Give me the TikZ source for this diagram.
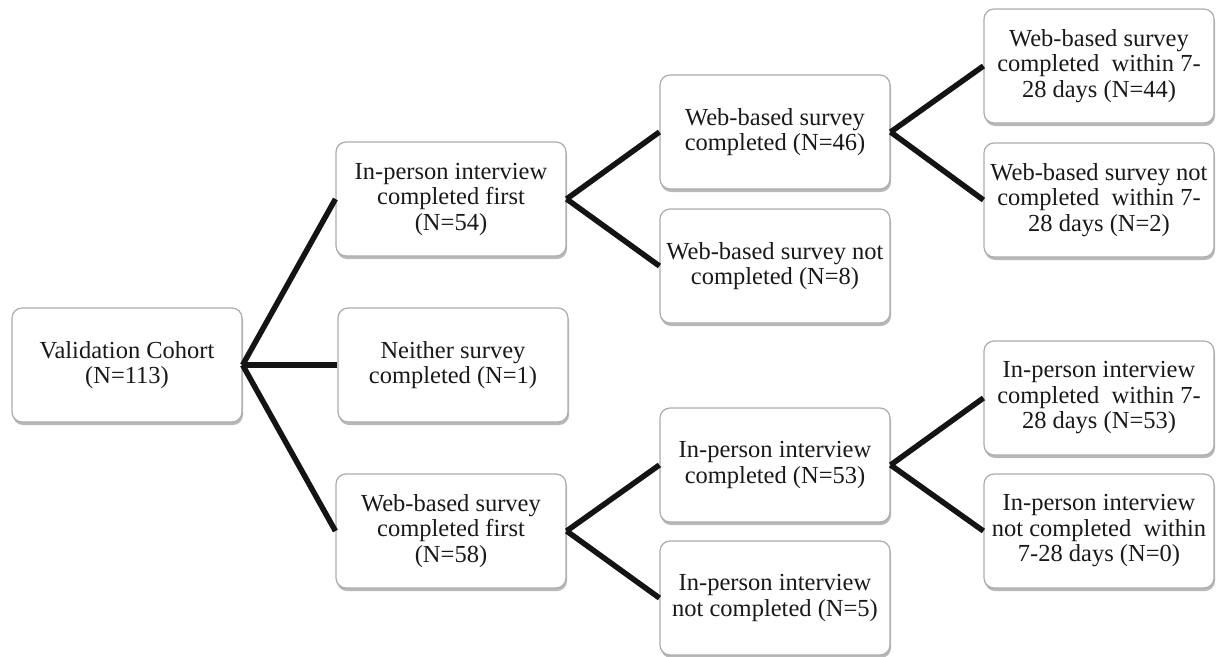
\documentclass[tikz,border=0pt]{standalone}
\usepackage{fontspec}
\setmainfont{Liberation Serif}
\usetikzlibrary{shadows}
\begin{document}
\begin{tikzpicture}[x=1pt,y=-1pt,
  box/.style={draw=gray!65,line width=1.2pt,rounded corners=10pt,fill=white,
    minimum width=230pt,minimum height=114pt,align=center,text=black!90,
    font=\fontsize{24.5}{25.5}\selectfont,inner sep=2pt,
    drop shadow={shadow xshift=1pt,shadow yshift=-3pt,fill=black,opacity=0.28}},
  conn/.style={draw=black!92,line width=5.5pt}]
\useasboundingbox (0,0) rectangle (1223,656);
\node[box] (V) at (127,365) {Validation Cohort\\(N=113)};
\node[box] (A) at (451,199) {In-person interview\\completed first\\(N=54)};
\node[box] (N) at (453,365) {Neither survey\\completed (N=1)};
\node[box] (B) at (451,531) {Web-based survey\\completed first\\(N=58)};
\node[box] (A1) at (775,132) {Web-based survey\\completed (N=46)};
\node[box] (A2) at (775,266) {Web-based survey not\\completed (N=8)};
\node[box] (B1) at (775,465) {In-person interview\\completed (N=53)};
\node[box] (B2) at (775,598) {In-person interview\\not completed (N=5)};
\node[box] (A11) at (1099,66) {Web-based survey\\completed\ \ within 7-\\28 days (N=44)};
\node[box] (A12) at (1099,200) {Web-based survey not\\completed\ \ within 7-\\28 days (N=2)};
\node[box] (B11) at (1099,398) {In-person interview\\completed\ \ within 7-\\28 days (N=53)};
\node[box] (B12) at (1099,531) {In-person interview\\not completed\ \ within\\7-28 days (N=0)};
\draw[conn] (V.east) -- (A.west);
\draw[conn] (V.east) -- (N.west);
\draw[conn] (V.east) -- (B.west);
\draw[conn] (A.east) -- (A1.west);
\draw[conn] (A.east) -- (A2.west);
\draw[conn] (B.east) -- (B1.west);
\draw[conn] (B.east) -- (B2.west);
\draw[conn] (A1.east) -- (A11.west);
\draw[conn] (A1.east) -- (A12.west);
\draw[conn] (B1.east) -- (B11.west);
\draw[conn] (B1.east) -- (B12.west);
\end{tikzpicture}
\end{document}
